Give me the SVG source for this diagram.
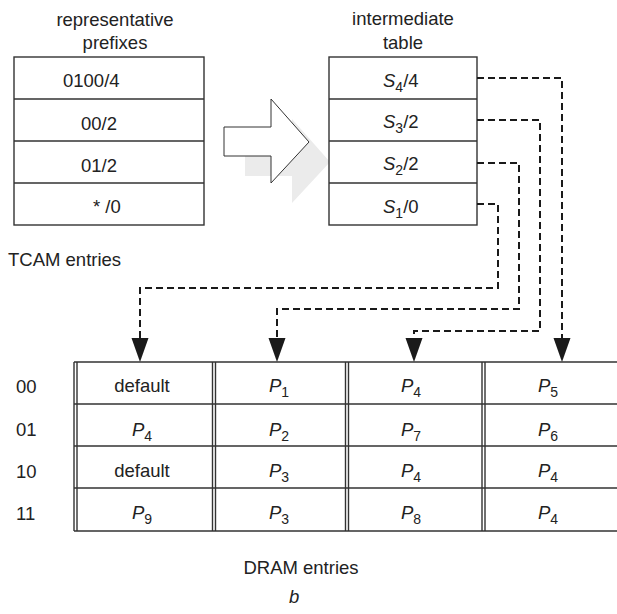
<svg xmlns="http://www.w3.org/2000/svg" width="617" height="614" viewBox="0 0 617 614">
  <style>
    text { font-family: "Liberation Sans", Arial, sans-serif; font-size: 18.5px; fill: #222; }
    .mid { text-anchor: middle; }
    .it { font-style: italic; }
    .sub { font-size: 14px; }
    .cell { fill: #fff; stroke: #333; stroke-width: 1.4; }
    .rule { stroke: #333; stroke-width: 1.4; fill: none; }
    .link { stroke: #1a1a1a; stroke-width: 2; fill: none; stroke-dasharray: 7 4; }
  </style>
  <defs>
    <marker id="head" markerUnits="userSpaceOnUse" markerWidth="24" markerHeight="18" refX="0" refY="8.5" orient="auto" overflow="visible">
      <path d="M0,0 L24,8.5 L0,17 z" fill="#1a1a1a"/>
    </marker>
  </defs>
  <rect width="617" height="614" fill="#fff"/>

  <!-- transform arrow with soft drop shadow -->
  <g id="transform-arrow">
    <polygon points="245,147 292,147 292,119 330,162 292,203 292,176 245,176" fill="#ebebeb"/>
    <polygon points="224,127 271,127 271,99 309,142 271,183 271,156 224,156" fill="#fff" stroke="#333" stroke-width="1"/>
  </g>

  <!-- TCAM table of representative prefixes -->
  <g id="tcam">
    <text class="mid" x="115" y="26">representative</text>
    <text class="mid" x="115" y="49">prefixes</text>
    <rect class="cell" x="14" y="57" width="190" height="168"/>
    <path class="rule" d="M14,99 H204 M14,141 H204 M14,183 H204"/>
    <text x="63" y="87">0100/4</text>
    <text x="81" y="130">00/2</text>
    <text x="81" y="172">01/2</text>
    <text x="93" y="213">* /0</text>
    <text x="8" y="266">TCAM entries</text>
  </g>

  <!-- intermediate table -->
  <g id="intermediate">
    <text class="mid" x="403" y="25">intermediate</text>
    <text class="mid" x="403" y="49">table</text>
    <rect class="cell" x="329" y="57" width="148" height="168"/>
    <path class="rule" d="M329,99 H477 M329,141 H477 M329,183 H477"/>
    <text x="383" y="87"><tspan class="it">S</tspan><tspan class="sub" dy="5">4</tspan><tspan dy="-5">/4</tspan></text>
    <text x="383" y="128"><tspan class="it">S</tspan><tspan class="sub" dy="5">3</tspan><tspan dy="-5">/2</tspan></text>
    <text x="383" y="170"><tspan class="it">S</tspan><tspan class="sub" dy="5">2</tspan><tspan dy="-5">/2</tspan></text>
    <text x="383" y="213"><tspan class="it">S</tspan><tspan class="sub" dy="5">1</tspan><tspan dy="-5">/0</tspan></text>
  </g>

  <!-- pointers from intermediate entries to DRAM columns -->
  <g id="connectors">
    <path class="link" d="M477,78 H562 V338" marker-end="url(#head)"/>
    <path class="link" d="M477,120 H540 V331 H414 V338" marker-end="url(#head)"/>
    <path class="link" d="M477,163 H519 V309 H277 V338" marker-end="url(#head)"/>
    <path class="link" d="M477,204 H498 V288 H140 V338" marker-end="url(#head)"/>
  </g>

  <!-- DRAM table -->
  <g id="dram">
    <path class="rule" d="M74,362 H617 M74,404 H617 M74,446 H617 M74,488 H617 M74,531 H617"/>
    <path class="rule" d="M74,362 V531 M77,362 V531 M212.5,362 V531 M215.5,362 V531 M345.5,362 V531 M348.5,362 V531 M482,362 V531 M485,362 V531"/>
    <text x="16" y="393">00</text>
    <text x="16" y="436">01</text>
    <text x="16" y="478">10</text>
    <text x="16" y="520">11</text>

    <text class="mid" x="142" y="392">default</text>
    <text class="mid" x="142" y="436"><tspan class="it">P</tspan><tspan class="sub" dy="5">4</tspan></text>
    <text class="mid" x="142" y="477">default</text>
    <text class="mid" x="142" y="519"><tspan class="it">P</tspan><tspan class="sub" dy="5">9</tspan></text>

    <text class="mid" x="279" y="392"><tspan class="it">P</tspan><tspan class="sub" dy="5">1</tspan></text>
    <text class="mid" x="279" y="436"><tspan class="it">P</tspan><tspan class="sub" dy="5">2</tspan></text>
    <text class="mid" x="279" y="477"><tspan class="it">P</tspan><tspan class="sub" dy="5">3</tspan></text>
    <text class="mid" x="279" y="519"><tspan class="it">P</tspan><tspan class="sub" dy="5">3</tspan></text>

    <text class="mid" x="411" y="392"><tspan class="it">P</tspan><tspan class="sub" dy="5">4</tspan></text>
    <text class="mid" x="411" y="436"><tspan class="it">P</tspan><tspan class="sub" dy="5">7</tspan></text>
    <text class="mid" x="411" y="477"><tspan class="it">P</tspan><tspan class="sub" dy="5">4</tspan></text>
    <text class="mid" x="411" y="519"><tspan class="it">P</tspan><tspan class="sub" dy="5">8</tspan></text>

    <text class="mid" x="548" y="392"><tspan class="it">P</tspan><tspan class="sub" dy="5">5</tspan></text>
    <text class="mid" x="548" y="436"><tspan class="it">P</tspan><tspan class="sub" dy="5">6</tspan></text>
    <text class="mid" x="548" y="477"><tspan class="it">P</tspan><tspan class="sub" dy="5">4</tspan></text>
    <text class="mid" x="548" y="519"><tspan class="it">P</tspan><tspan class="sub" dy="5">4</tspan></text>

    <text class="mid" x="301" y="574">DRAM entries</text>
    <text class="it" x="289" y="603">b</text>
  </g>
</svg>
